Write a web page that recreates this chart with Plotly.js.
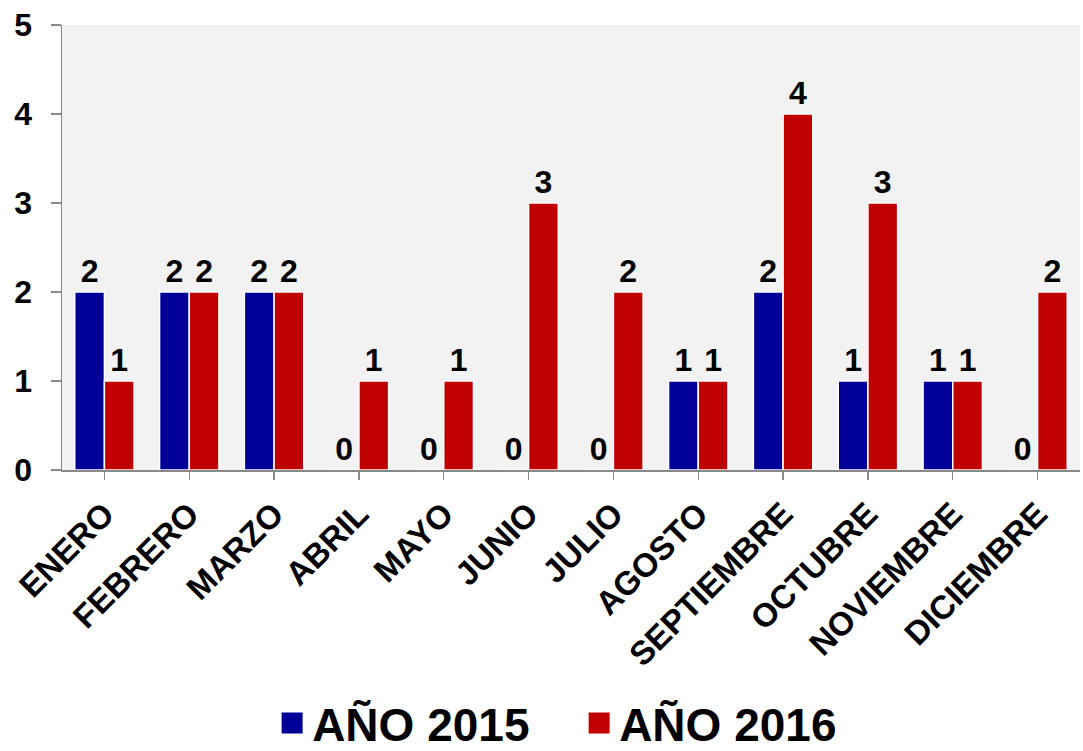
<!DOCTYPE html>
<html>
<head>
<meta charset="utf-8">
<script src="https://cdn.plot.ly/plotly-3.0.1.min.js"></script>
<style>html,body{margin:0;padding:0;background:#fff;}#chart{width:1083px;height:751px;}</style>
</head>
<body>
<div id="chart"></div>
<script>
var months = ["ENERO","FEBRERO","MARZO","ABRIL","MAYO","JUNIO","JULIO","AGOSTO","SEPTIEMBRE","OCTUBRE","NOVIEMBRE","DICIEMBRE"];
var values2015 = [2,2,2,0,0,0,0,1,2,1,1,0];
var values2016 = [1,2,2,1,1,3,2,1,4,3,1,2];
var seriesNames = ["AÑO 2015","AÑO 2016"];
var seriesColors = ["#000099","#C00000"];
var yTicks = [0,1,2,3,4,5];

var fontFam = "Liberation Sans, Arial, sans-serif";
var labelFont = {family: fontFam, size: 32, color: "#000", weight: 700};

function barTrace(vals, i) {
  return {
    type: "bar", x: months, y: vals, name: seriesNames[i],
    marker: {color: seriesColors[i], line: {color: "#ffffff", width: 1.5}},
    text: vals.map(String), textposition: "outside", cliponaxis: false,
    textfont: labelFont, showlegend: false, hoverinfo: "x+y"
  };
}
function legendTrace(i) {
  return {
    type: "scatter", mode: "markers", x: [null], y: [null], name: seriesNames[i],
    marker: {symbol: "square", size: 16, color: seriesColors[i], line: {color: seriesColors[i], width: 5}},
    showlegend: true
  };
}

var data = [barTrace(values2015, 0), barTrace(values2016, 1), legendTrace(0), legendTrace(1)];

var layout = {
  width: 1083, height: 751,
  margin: {l: 62, r: 3, t: 25, b: 281, autoexpand: false},
  paper_bgcolor: "#ffffff", plot_bgcolor: "#f2f2f2",
  barmode: "group", bargap: 0.3, bargroupgap: 0,
  font: {family: fontFam, color: "#000"},
  xaxis: {
    type: "category", categoryorder: "array", categoryarray: months,
    tickangle: -45, tickfont: {family: fontFam, size: 33, weight: 700, color: "#000"},
    ticklabelstandoff: 2,
    showline: true, linecolor: "#898989", linewidth: 1.5,
    ticks: "outside", ticklen: 8, tickcolor: "#898989", tickwidth: 1.2,
    showgrid: false, zeroline: false, fixedrange: true
  },
  yaxis: {
    range: [0, 5], tickvals: yTicks, ticktext: yTicks.map(String),
    tickfont: {family: fontFam, size: 32, weight: 700, color: "#000"},
    ticklabelstandoff: 12,
    showline: true, linecolor: "#898989", linewidth: 1.5,
    ticks: "outside", ticklen: 10, tickcolor: "#898989", tickwidth: 1.2,
    showgrid: false, zeroline: false, fixedrange: true
  },
  legend: {
    orientation: "h", x: 0.508, xanchor: "center", y: -0.569, yanchor: "middle",
    font: {family: fontFam, size: 46, weight: 700, color: "#000"},
    itemsizing: "trace", entrywidthmode: "pixels", entrywidth: 262, bgcolor: "rgba(0,0,0,0)"
  },
  showlegend: true
};

Plotly.newPlot("chart", data, layout, {displayModeBar: false, staticPlot: true});
</script>
</body>
</html>
